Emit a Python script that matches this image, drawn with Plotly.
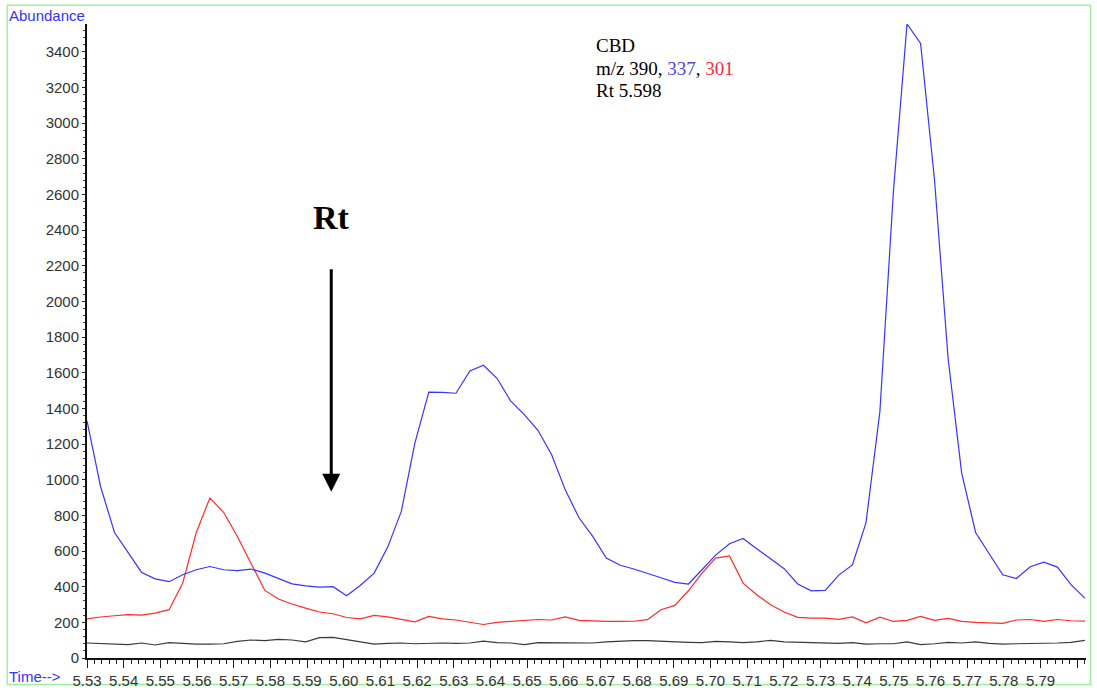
import plotly.graph_objects as go

# Retention times (min), one per scan
times = [5.5300, 5.5337, 5.5375, 5.5412, 5.5449, 5.5486, 5.5524, 5.5561, 5.5598, 5.5635,
         5.5673, 5.5710, 5.5747, 5.5785, 5.5822, 5.5859, 5.5896, 5.5934, 5.5971, 5.6008,
         5.6045, 5.6083, 5.6120, 5.6157, 5.6194, 5.6232, 5.6269, 5.6306, 5.6344, 5.6381,
         5.6418, 5.6455, 5.6493, 5.6530, 5.6567, 5.6604, 5.6642, 5.6679, 5.6716, 5.6754,
         5.6791, 5.6828, 5.6865, 5.6903, 5.6940, 5.6977, 5.7014, 5.7052, 5.7089, 5.7126,
         5.7164, 5.7201, 5.7238, 5.7275, 5.7313, 5.7350, 5.7387, 5.7424, 5.7462, 5.7499,
         5.7536, 5.7573, 5.7611, 5.7648, 5.7685, 5.7723, 5.7760, 5.7797, 5.7834, 5.7872,
         5.7909, 5.7946, 5.7983, 5.8021]

# m/z 337 (blue)
mz337 = [1330, 962, 704, 592, 480, 444, 428, 467, 495, 513,
         495, 490, 499, 476, 446, 416, 405, 398, 400, 349,
         407, 476, 622, 822, 1205, 1491, 1490, 1485, 1610, 1642,
         1569, 1442, 1364, 1276, 1140, 943, 785, 682, 561, 520,
         499, 476, 450, 424, 415, 495, 577, 641, 670, 613,
         557, 501, 415, 377, 379, 465, 522, 758, 1382, 2620,
         3556, 3447, 2680, 1680, 1037, 704, 585, 467, 446, 512,
         538, 510, 411, 336]

# m/z 301 (red)
mz301 = [219, 230, 237, 243, 241, 252, 271, 420, 704, 897,
         816, 682, 532, 379, 331, 303, 280, 258, 248, 227,
         219, 239, 231, 215, 203, 233, 219, 213, 200, 188,
         200, 205, 207, 216, 213, 231, 211, 207, 205, 205,
         206, 215, 271, 295, 377, 476, 560, 572, 420, 355,
         299, 258, 228, 224, 224, 217, 230, 197, 229, 205,
         211, 233, 211, 222, 205, 200, 198, 194, 213, 216,
         205, 216, 209, 207]

# m/z 390 (black)
mz390 = [84, 80, 80, 75, 84, 73, 86, 80, 78, 78,
         80, 93, 101, 97, 104, 101, 91, 114, 116, 103,
         92, 78, 82, 84, 80, 84, 84, 82, 84, 95,
         86, 84, 75, 86, 86, 82, 84, 84, 90, 95,
         97, 97, 93, 88, 88, 86, 93, 90, 86, 91,
         99, 91, 88, 88, 82, 82, 86, 78, 80, 80,
         90, 75, 80, 88, 84, 91, 82, 78, 80, 80,
         80, 84, 88, 99]

# x tick positions and labels (last major tick unlabeled)
x_tickvals = [5.53, 5.54, 5.55, 5.56, 5.57, 5.58, 5.59, 5.60, 5.61, 5.62, 5.63, 5.64, 5.65, 5.66,
              5.67, 5.68, 5.69, 5.70, 5.71, 5.72, 5.73, 5.74, 5.75, 5.76, 5.77, 5.78, 5.79, 5.80]
x_ticktext = ["5.53", "5.54", "5.55", "5.56", "5.57", "5.58", "5.59", "5.60", "5.61", "5.62",
              "5.63", "5.64", "5.65", "5.66", "5.67", "5.68", "5.69", "5.70", "5.71", "5.72",
              "5.73", "5.74", "5.75", "5.76", "5.77", "5.78", "5.79", ""]

info_lines = [
    "CBD",
    "m/z 390, <span style='color:#4a4ad8'>337</span>, <span style='color:#ff2a40'>301</span>",
    "Rt 5.598",
]

rt_value = 5.5966
rt_label_y = 2468
arrow_tip = 932

W, H = 1097, 690
ML, MR, MT, MB = 87, 11, 24, 32
PW, PH = W - ML - MR, H - MT - MB


def px(x):
    return (x - ML) / PW


def py(y):
    return (H - MB - y) / PH


fig = go.Figure()
fig.add_trace(go.Scatter(x=times, y=mz390, mode="lines",
                         line=dict(color="#3a3a3a", width=1.2), hoverinfo="skip"))
fig.add_trace(go.Scatter(x=times, y=mz301, mode="lines",
                         line=dict(color="#ff2a2a", width=1.2), hoverinfo="skip"))
fig.add_trace(go.Scatter(x=times, y=mz337, mode="lines",
                         line=dict(color="#3535ff", width=1.2), hoverinfo="skip"))

tick_font = dict(family="Liberation Sans, Arial, sans-serif", size=15, color="#333333")

fig.update_layout(
    width=W, height=H,
    margin=dict(l=ML, r=MR, t=MT, b=MB, autoexpand=False),
    paper_bgcolor="white", plot_bgcolor="white",
    showlegend=False,
    xaxis=dict(
        range=[5.53, 5.8024], tickmode="array", tickvals=x_tickvals, ticktext=x_ticktext,
        ticks="outside", ticklen=8, tickwidth=1.2, tickcolor="#222", automargin=False,
        showline=True, linecolor="#111", linewidth=1.5,
        showgrid=False, zeroline=False, tickfont=tick_font,
        minor=dict(dtick=0.002, tick0=5.53, ticks="outside", ticklen=4, tickwidth=1,
                   tickcolor="#222", showgrid=False),
    ),
    yaxis=dict(
        range=[0, 3556], tick0=0, dtick=200, automargin=False,
        ticks="outside", ticklen=3, tickwidth=1, tickcolor="#222",
        showline=True, linecolor="#111", linewidth=2,
        showgrid=False, zeroline=False, tickfont=tick_font,
        minor=dict(dtick=40, ticks="outside", ticklen=2, tickwidth=1, tickcolor="#444", showgrid=False),
    ),
)

# green frame
fig.add_shape(type="rect", xref="paper", yref="paper",
              x0=px(7.3), x1=px(1090.5), y0=py(684.5), y1=py(5.3),
              line=dict(color="#9ef09e", width=1.5), layer="below")

blue_label = dict(family="Liberation Sans, Arial, sans-serif", size=15, color="#3333ff")
fig.add_annotation(text="Abundance", xref="paper", yref="paper", x=px(7), y=py(15),
                   xanchor="left", yanchor="middle", showarrow=False, font=blue_label)
fig.add_annotation(text="Time-->", xref="paper", yref="paper", x=px(7), y=py(676),
                   xanchor="left", yanchor="middle", showarrow=False, font=blue_label)

serif = "Liberation Serif, Times New Roman, serif"
for line_text, yc in zip(info_lines, [45, 68, 90]):
    fig.add_annotation(text=line_text, xref="paper", yref="paper", x=px(594), y=py(yc),
                       xanchor="left", yanchor="middle", align="left", showarrow=False,
                       font=dict(family=serif, size=19, color="black"))

fig.add_annotation(text="<b>Rt</b>", x=rt_value, y=rt_label_y, xref="x", yref="y",
                   showarrow=False, xanchor="center", yanchor="middle",
                   font=dict(family=serif, size=34, color="black"))

fig.add_annotation(text="", x=rt_value, y=arrow_tip, xref="x", yref="y",
                   ax=0, ay=-224, axref="pixel", ayref="pixel",
                   showarrow=True, arrowhead=2, arrowsize=1.2, arrowwidth=3, arrowcolor="black")

fig.write_html("out.html")
